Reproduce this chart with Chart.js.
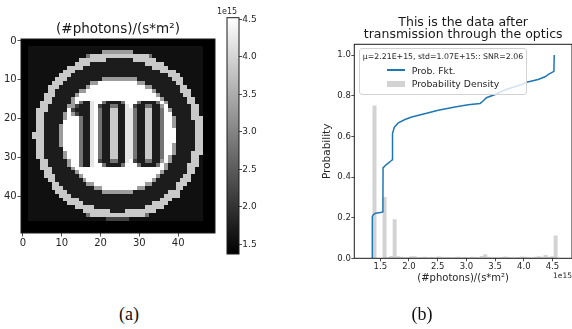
<!DOCTYPE html>
<html>
<head>
<meta charset="utf-8">
<title>Photon image and distribution</title>
<script src="https://cdn.jsdelivr.net/npm/chart.js@4.4.1/dist/chart.umd.min.js"></script>
<style>
  html, body { margin: 0; padding: 0; background: #fff; }
  #wrap { position: relative; width: 572px; height: 329px; overflow: hidden; font-family: 'DejaVu Sans', sans-serif; color: #262626; }
  canvas { position: absolute; top: 0; }
  #heat { left: 0; }
  #cbar { left: 215px; }
  #hist { left: 290px; }
  .offset { position: absolute; line-height: 1; white-space: nowrap; }
  #legend { position: absolute; left: 359px; top: 48px; width: 168px; height: 47px; box-sizing: border-box;
            background: rgba(255,255,255,0.8); border: 1px solid #d2d2d2; border-radius: 3px; }
  .lg-title { position: absolute; left: 0; right: 0; top: 3px; text-align: center; font-size: 7.8px; line-height: 9px; white-space: nowrap; }
  .lg-line { position: absolute; left: 26.5px; top: 20.3px; width: 18.5px; height: 1.5px; }
  .lg-patch { position: absolute; left: 26.5px; top: 32px; width: 18.5px; height: 6.3px; }
  .lg-text { position: absolute; left: 51.7px; font-size: 9.3px; line-height: 11px; white-space: nowrap; }
  .caption { position: absolute; top: 304px; font-family: 'Liberation Serif', serif; font-size: 18px; line-height: 20px; transform: translateX(-50%); color: #111; }
</style>
</head>
<body>
<div id="wrap">
  <canvas id="heat" width="236" height="260"></canvas>
  <canvas id="cbar" width="60" height="260"></canvas>
  <canvas id="hist" width="282" height="290"></canvas>
  <div class="offset" style="left:217px; top:7.5px; font-size:8px;">1e15</div>
  <div class="offset" style="left:553px; top:272px; font-size:7.5px;">1e15</div>
  <div id="legend"></div>
  <div class="caption" style="left:129px">(a)</div>
  <div class="caption" style="left:422px">(b)</div>
</div>
<script>
// ---- (a) image data, values in 1e15 photons/(s*m²) ----
const imgTicks = [0, 10, 20, 30, 40];
const cbarTicks = [1.5, 2.0, 2.5, 3.0, 3.5, 4.0, 4.5];
const cbarMin = 1.37;
const cbarMax = 4.52;
// pixel level code -> value
const grayLevels = { '0': 1.37, '1': 1.57, '2': 1.72, '3': 2.2, '4': 2.8, '5': 3.3, '6': 3.85, '7': 4.2, '8': 4.52 };
// 50x50 image, one string per row (spaces every 10 columns only for readability)
const imageRows = [
  "0000000000 0000000000 0000000000 0000000000 0000000000",
  "0000000000 0000000000 0000000000 0000000000 0000000000",
  "0011111111 1111111111 1111111111 1111111111 1111111000",
  "0011111111 1111111111 1555555551 1111111111 1111111000",
  "0011111111 1111111466 6666666666 6664111111 1111111000",
  "0011111111 1111166666 6622222226 6666611111 1111111000",
  "0011111111 1111666622 2222222222 2266666111 1111111000",
  "0011111111 1166662222 2222222222 2222666611 1111111000",
  "0011111111 1666222222 2222222222 2222226666 1111111000",
  "0011111111 6662222222 2222222222 2222222266 6111111000",
  "0011111116 6622222222 2555555555 2222222226 6611111000",
  "0011111166 6222222255 8888888888 5522222222 6611111000",
  "0011111666 2222222588 8888888888 8855222222 2661111000",
  "0011111662 2222255888 8888888888 8888522222 2666111000",
  "0011116662 2222588888 8888888888 8888852222 2266111000",
  "0011116622 2225888888 8888888888 8888885222 2226611000",
  "0011166622 2225842278 8422224888 4222248522 2226611000",
  "0011166222 2255322278 3224422783 2244225822 2222661000",
  "0011666222 2283222278 4226622774 2266224852 2222661000",
  "0011662222 2585322278 4226622774 2266224882 2222661000",
  "0011662222 2588842278 4226622774 2266224885 2222666000",
  "0011662222 2888842278 4226622774 2266224885 2222266000",
  "0011662222 5888842278 4226622774 2266224885 2222266000",
  "0011662222 5888842278 4226622774 2266224888 2222266000",
  "0016662222 5888842278 4226622774 2266224888 2222266000",
  "0016662222 5888842278 4226622774 2266224888 2222266000",
  "0011662222 5888842278 4226622774 2266224888 2222266000",
  "0011662222 5888842278 4226622774 2266224885 2222266000",
  "0011662222 2888842278 4226622774 2266224885 2222266000",
  "0011662222 2588842278 4226622774 2266224885 2222666000",
  "0011662222 2588842278 4226622774 2266224852 2222661000",
  "0011166222 2258842278 3224422783 2244225852 2222661000",
  "0011166222 2258842278 8422224888 4222248522 2226661000",
  "0011166622 2225888888 8888888888 8888888522 2226611000",
  "0011116622 2222588888 8888888888 8888885222 2226611000",
  "0011116662 2222258888 8888888888 8888852222 2266111000",
  "0011111662 2222225888 8888888888 8888522222 2666111000",
  "0011111166 2222222558 8888888888 8855222222 6661111000",
  "0011111166 6222222225 5888888888 5522222222 6611111000",
  "0011111116 6622222222 2555555552 2222222266 6111111000",
  "0011111111 6662222222 2222222222 2222222666 6111111000",
  "0011111111 1666622222 2222222222 2222226661 1111111000",
  "0011111111 1166662222 2222222222 2222666611 1111111000",
  "0011111111 1111666662 2222222222 2266666111 1111111000",
  "0011111111 1111116666 6662222666 6666611111 1111111000",
  "0011111111 1111111466 6666666666 6641111111 1111111000",
  "0011111111 1111111111 1133333311 1111111111 1111111000",
  "0000000000 0000000000 0000000000 0000000000 0000000000",
  "0000000000 0000000000 0000000000 0000000000 0000000000",
  "0000000000 0000000000 0000000000 0000000000 0000000000"
];

// ---- (b) histogram + cumulative curve, x in 1e15 ----
const binCenters = [1.399, 1.458, 1.516, 1.574, 1.633, 1.691, 1.750, 1.808, 1.866, 1.925,
  1.983, 2.042, 2.100, 2.159, 2.217, 2.276, 2.334, 2.393, 2.451, 2.510,
  2.568, 2.626, 2.685, 2.743, 2.802, 2.860, 2.918, 2.977, 3.035, 3.094,
  3.152, 3.211, 3.269, 3.328, 3.386, 3.444, 3.503, 3.561, 3.620, 3.678,
  3.737, 3.795, 3.853, 3.912, 3.970, 4.029, 4.087, 4.145, 4.204, 4.262,
  4.321, 4.379, 4.438, 4.496, 4.555];
const binDensity = [0.75, 0, 0, 0.30, 0.003, 0.01, 0.19, 0.008, 0.006, 0.004,
  0.003, 0.008, 0.008, 0.004, 0.005, 0.006, 0.003, 0.005, 0.004, 0.007,
  0.006, 0.004, 0.005, 0.004, 0.005, 0.006, 0.004, 0.005, 0.004, 0.006,
  0.005, 0.004, 0.010, 0.018, 0.006, 0.003, 0.004, 0.004, 0.005, 0.007,
  0.005, 0.004, 0.004, 0.005, 0.007, 0.006, 0.004, 0.004, 0.006, 0.008,
  0.006, 0.014, 0.006, 0.008, 0.11];
const cdfX = [1.361, 1.361, 1.38, 1.42, 1.50, 1.545, 1.548, 1.60, 1.69, 1.71, 1.713, 1.745, 1.814, 1.93, 2.047,
  2.22, 2.51, 2.80, 3.03, 3.24, 3.295, 3.35, 3.50, 3.67, 3.96, 4.05, 4.25, 4.37, 4.43, 4.525, 4.53];
const cdfY = [0.0, 0.205, 0.215, 0.222, 0.225, 0.228, 0.445, 0.46, 0.48, 0.485, 0.615, 0.645, 0.667, 0.683, 0.695,
  0.708, 0.728, 0.744, 0.755, 0.762, 0.775, 0.79, 0.806, 0.828, 0.855, 0.866, 0.88, 0.893, 0.905, 0.92, 1.0];
const histXTicks = [1.5, 2.0, 2.5, 3.0, 3.5, 4.0, 4.5];
const histYTicks = [0, 0.2, 0.4, 0.6, 0.8, 1.0];
const histXRange = [1.047, 4.84];
const histYRange = [0, 1.053];
const seriesNames = ['Prob. Fkt.', 'Probability Density'];
const legendTitle = 'μ=2.21E+15, std=1.07E+15:: SNR=2.06';
const unitLabel = '(#photons)/(s*m²)';
const histTitle = ['This is the data after', 'transmission through the optics'];

Chart.defaults.font.family = "'DejaVu Sans', sans-serif";
Chart.defaults.color = '#262626';

const lineColor = '#1f77b4';
const barColor = '#d3d3d3';

function grayFor(v) {
  let t = (v - cbarMin) / (cbarMax - cbarMin);
  t = Math.max(0, Math.min(1, t));
  const g = Math.round(255 * t);
  return `rgb(${g},${g},${g})`;
}

function fixedTicks(values) {
  return scale => { scale.ticks = values.map(v => ({ value: v })); };
}

// spines on all four sides
const framePlugin = {
  id: 'frame',
  afterDraw(chart) {
    const { ctx, chartArea: a } = chart;
    ctx.save();
    ctx.strokeStyle = '#1a1a1a';
    ctx.lineWidth = 1;
    ctx.strokeRect(a.left, a.top, a.right - a.left, a.bottom - a.top);
    ctx.restore();
  }
};

// draws each image pixel as a cell through the x/y scales
const cellPlugin = {
  id: 'cells',
  beforeDatasetsDraw(chart) {
    const { ctx, chartArea: a, scales: { x, y } } = chart;
    ctx.save();
    ctx.beginPath();
    ctx.rect(a.left, a.top, a.right - a.left, a.bottom - a.top);
    ctx.clip();
    chart.data.datasets[0].data.forEach(p => {
      const x0 = Math.floor(x.getPixelForValue(p.x - 0.5));
      const x1 = Math.ceil(x.getPixelForValue(p.x + 0.5));
      const y0 = Math.floor(y.getPixelForValue(p.y - 0.5));
      const y1 = Math.ceil(y.getPixelForValue(p.y + 0.5));
      ctx.fillStyle = grayFor(p.v);
      ctx.fillRect(x0, y0, x1 - x0, y1 - y0);
    });
    ctx.restore();
  }
};

const cells = [];
imageRows.forEach((row, r) => {
  const line = row.replace(/ /g, '').padEnd(50, '0').slice(0, 50);
  for (let c = 0; c < line.length; c++) {
    cells.push({ x: c, y: r, v: grayLevels[line[c]] });
  }
});

const tickGrid = { drawOnChartArea: false, tickLength: 3.5, tickColor: '#222', tickWidth: 0.8 };

// (a) image
new Chart(document.getElementById('heat'), {
  type: 'scatter',
  data: { datasets: [{ data: cells, pointRadius: 0, pointHoverRadius: 0 }] },
  options: {
    responsive: false, animation: false, devicePixelRatio: 1,
    layout: { padding: { left: 0, right: 21, top: 0, bottom: 0 } },
    plugins: {
      legend: { display: false }, tooltip: { enabled: false },
      title: { display: true, fullSize: false, text: unitLabel, color: '#1a1a1a',
               font: { size: 13.5, weight: 'normal' }, padding: { top: 20.9, bottom: 1.9 } }
    },
    scales: {
      x: {
        type: 'linear', min: -0.5, max: 49.5,
        afterBuildTicks: fixedTicks(imgTicks),
        afterFit: s => { s.height = 27; },
        ticks: { font: { size: 10 }, padding: 0.7, maxRotation: 0, autoSkip: false, callback: v => v },
        grid: tickGrid, border: { display: false }
      },
      y: {
        type: 'linear', min: -0.5, max: 49.5, reverse: true,
        afterBuildTicks: fixedTicks(imgTicks),
        afterFit: s => { s.width = 21; },
        ticks: { font: { size: 10 }, padding: 0.8, autoSkip: false, callback: v => v },
        grid: tickGrid, border: { display: false }
      }
    }
  },
  plugins: [cellPlugin, framePlugin]
});

// colour bar
new Chart(document.getElementById('cbar'), {
  type: 'bar',
  data: {
    labels: [''],
    datasets: [{
      data: [[cbarMin, cbarMax]],
      backgroundColor: c => {
        const chart = c.chart;
        if (!chart.chartArea) return '#888';
        const ys = chart.scales.y;
        const g = chart.ctx.createLinearGradient(0, ys.getPixelForValue(cbarMin), 0, ys.getPixelForValue(cbarMax));
        g.addColorStop(0, grayFor(cbarMin));
        g.addColorStop(1, grayFor(cbarMax));
        return g;
      },
      borderWidth: 0, barPercentage: 1, categoryPercentage: 1
    }]
  },
  options: {
    responsive: false, animation: false, devicePixelRatio: 1,
    layout: { padding: { left: 12, right: 0, top: 17.7, bottom: 6 } },
    plugins: { legend: { display: false }, tooltip: { enabled: false } },
    scales: {
      x: { display: false },
      y: {
        position: 'right', min: cbarMin, max: cbarMax,
        afterBuildTicks: fixedTicks(cbarTicks),
        afterFit: s => { s.width = 36; },
        ticks: { font: { size: 9 }, padding: 0.3, autoSkip: false, callback: v => v.toFixed(1) },
        grid: { drawOnChartArea: false, tickLength: 3, tickColor: '#222', tickWidth: 0.8 },
        border: { display: false }
      }
    }
  },
  plugins: [framePlugin]
});

// (b) histogram and cumulative probability
new Chart(document.getElementById('hist'), {
  type: 'bar',
  data: {
    datasets: [
      { type: 'line', label: seriesNames[0], data: cdfX.map((x, i) => ({ x, y: cdfY[i] })),
        borderColor: lineColor, borderWidth: 1.5, pointRadius: 0, tension: 0, order: 0 },
      { type: 'bar', label: seriesNames[1], data: binCenters.map((x, i) => ({ x, y: binDensity[i] })),
        backgroundColor: barColor, borderWidth: 0, barPercentage: 1, categoryPercentage: 1, order: 1 }
    ]
  },
  options: {
    responsive: false, animation: false, devicePixelRatio: 1,
    layout: { padding: 0 },
    plugins: {
      legend: { display: false }, tooltip: { enabled: false },
      title: { display: true, fullSize: false, text: histTitle, color: '#1a1a1a',
               font: { size: 12.5, weight: 'normal', lineHeight: 1 }, padding: { top: 16.4, bottom: 2.9 } }
    },
    scales: {
      x: {
        type: 'linear', min: histXRange[0], max: histXRange[1], offset: false,
        afterBuildTicks: fixedTicks(histXTicks),
        afterFit: s => { s.height = 31.7; },
        ticks: { font: { size: 8.5 }, padding: 0.5, maxRotation: 0, autoSkip: false, callback: v => v.toFixed(1) },
        grid: { offset: false, drawOnChartArea: false, tickLength: 3, tickColor: '#222', tickWidth: 0.8 },
        border: { display: false },
        title: { display: true, text: unitLabel, font: { size: 10 }, padding: { top: 0, bottom: 5.7 } }
      },
      y: {
        min: histYRange[0], max: histYRange[1],
        afterBuildTicks: fixedTicks(histYTicks),
        afterFit: s => { s.width = 64.3; },
        ticks: { font: { size: 8.5 }, padding: 0.5, autoSkip: false, callback: v => v.toFixed(1) },
        grid: { drawOnChartArea: false, tickLength: 3, tickColor: '#222', tickWidth: 0.8 },
        border: { display: false },
        title: { display: true, text: 'Probability', font: { size: 10.5 }, padding: { top: 31.4, bottom: 0 } }
      }
    }
  },
  plugins: [framePlugin]
});

// legend box inside the axes
const legendBox = document.getElementById('legend');
legendBox.innerHTML =
  `<div class="lg-title">${legendTitle}</div>` +
  `<div class="lg-line" style="background:${lineColor}"></div>` +
  `<div class="lg-text" style="top:15.5px">${seriesNames[0]}</div>` +
  `<div class="lg-patch" style="background:${barColor}"></div>` +
  `<div class="lg-text" style="top:28.8px">${seriesNames[1]}</div>`;
</script>
</body>
</html>
